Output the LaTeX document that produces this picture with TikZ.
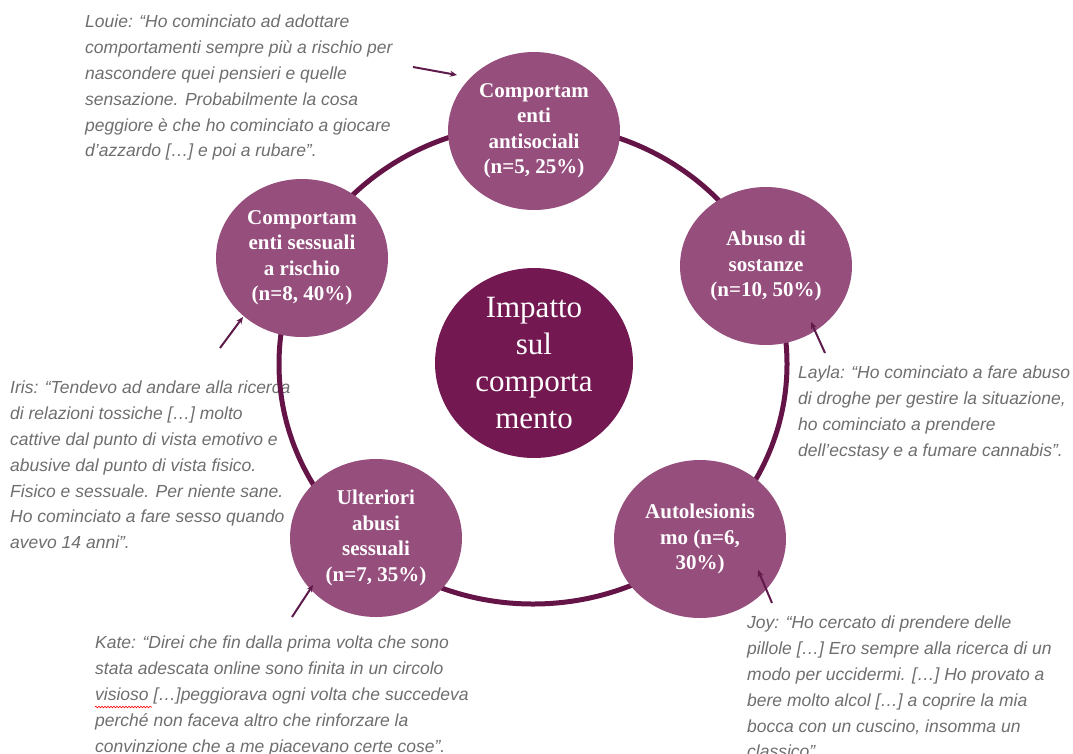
\documentclass[tikz,border=0pt]{standalone}
\usepackage{fontspec}
\setmainfont{Liberation Serif}
\newfontfamily\qfont{Liberation Sans}
\usetikzlibrary{shapes.geometric,arrows.meta,decorations.pathmorphing}
\definecolor{ringc}{HTML}{641446}
\definecolor{hubc}{HTML}{741852}
\definecolor{petal}{HTML}{964E7D}
\definecolor{quotec}{HTML}{6E6E6E}
\definecolor{arrc}{HTML}{5E1A4A}
\begin{document}
\begin{tikzpicture}[x=1pt,y=-1pt,
 petalnode/.style={ellipse, fill=petal, minimum width=172pt, minimum height=158pt, inner sep=0pt, text=white, align=center, font=\fontsize{21}{25.5}\selectfont\bfseries},
 hubnode/.style={ellipse, fill=hubc, minimum width=198pt, minimum height=190pt, inner sep=0pt, text=white, align=center, font=\fontsize{31}{37}\selectfont},
 quotetext/.style={anchor=north west, inner sep=0pt, align=left, text=quotec, font=\qfont\itshape\fontsize{17.5}{25.8}\selectfont},
 ptr/.style={draw=arrc, line width=2pt, -{Stealth[length=7pt,width=6pt]}},
 ringline/.style={draw=ringc, line width=5pt}
]
\useasboundingbox (0,0) rectangle (1073,753);

% quotes
\node[quotetext] (louie) at (85,15) {Louie: “Ho cominciato ad adottare\\comportamenti sempre più a rischio per\\nascondere quei pensieri e quelle\\sensazione. Probabilmente la cosa\\peggiore è che ho cominciato a giocare\\d’azzardo […] e poi a rubare”.};
\node[quotetext] (iris) at (10,381) {Iris: “Tendevo ad andare alla ricerca\\di relazioni tossiche […] molto\\cattive dal punto di vista emotivo e\\abusive dal punto di vista fisico.\\Fisico e sessuale. Per niente sane.\\Ho cominciato a fare sesso quando\\avevo 14 anni”.};
\node[quotetext] (layla) at (798,366) {Layla: “Ho cominciato a fare abuso\\di droghe per gestire la situazione,\\ho cominciato a prendere\\dell’ecstasy e a fumare cannabis”.};
\node[quotetext] (kate) at (95,636) {Kate: “Direi che fin dalla prima volta che sono\\stata adescata online sono finita in un circolo\\visioso […]peggiorava ogni volta che succedeva\\perché non faceva altro che rinforzare la\\convinzione che a me piacevano certe cose”.};
\node[quotetext] (joy) at (747,616) {Joy: “Ho cercato di prendere delle\\pillole […] Ero sempre alla ricerca di un\\modo per uccidermi. […] Ho provato a\\bere molto alcol […] a coprire la mia\\bocca con un cuscino, insomma un\\classico”.};
\draw[red, line width=0.6pt, decorate, decoration={snake, amplitude=0.8pt, segment length=3pt}] (95,707) -- (152,707);

% ring
\draw[ringline] (533,364) ellipse [x radius=254pt, y radius=240pt];

% circles
\node[petalnode] (anti) at (534,131) {Comportam\\enti\\antisociali\\(n=5, 25\%)};
\node[petalnode] (abuso) at (766,266) {Abuso di\\sostanze\\(n=10, 50\%)};
\node[petalnode] (auto) at (700,539) {Autolesionis\\mo (n=6,\\30\%)};
\node[petalnode] (ult) at (376,538) {Ulteriori\\abusi\\sessuali\\(n=7, 35\%)};
\node[petalnode] (sess) at (302,258) {Comportam\\enti sessuali\\a rischio\\(n=8, 40\%)};
\node[hubnode] (hub) at (534,363) {Impatto\\sul\\comporta\\mento};

% arrows
\coordinate (louieS) at (413,67);
\coordinate (irisS) at (220,348);
\coordinate (laylaS) at (825,353);
\coordinate (joyS) at (772,603);
\coordinate (kateS) at (292,617);
\draw[ptr] (louieS) -- ([shift={(-77,-56)}]anti.center);
\draw[ptr] (irisS) -- ([shift={(-59,59)}]sess.center);
\draw[ptr] (laylaS) -- ([shift={(45,56)}]abuso.center);
\draw[ptr] (joyS) -- ([shift={(58,31)}]auto.center);
\draw[ptr] (kateS) -- ([shift={(-63,47)}]ult.center);
\end{tikzpicture}
\end{document}
